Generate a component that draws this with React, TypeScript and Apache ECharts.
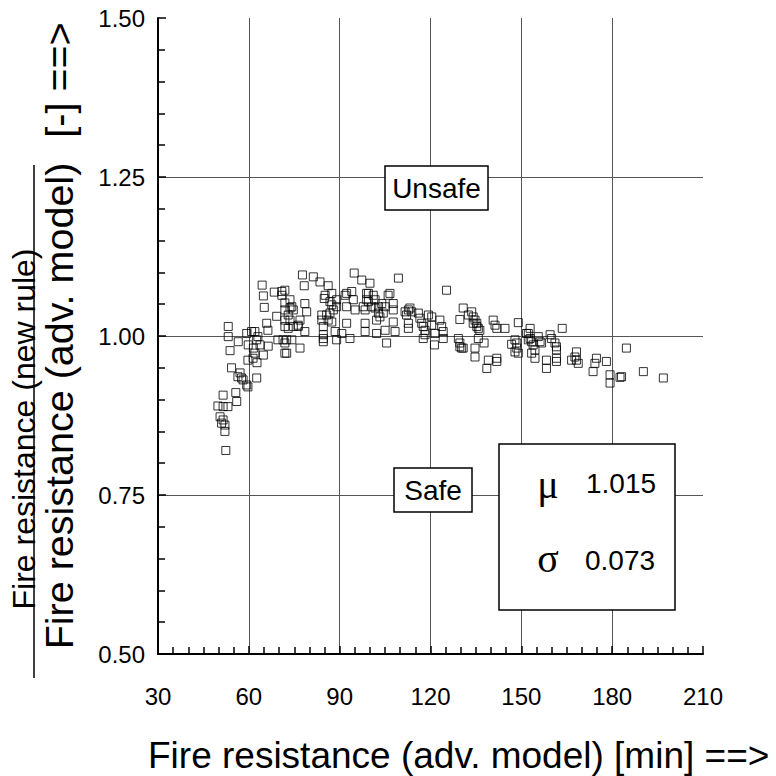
import React, { useEffect, useRef } from "react";
import * as echarts from "echarts";

// Fire resistance (adv. model) [min], ratio new rule / adv. model [-]
const clusterShort: [number, number][] = [
  [64.4, 1.080], [64.8, 1.063], [65.1, 1.045], [68.4, 1.069], [70.9, 1.070], [70.9, 1.064],
  [71.9, 1.052], [71.9, 1.041], [71.9, 1.025], [69.2, 1.031], [65.9, 1.020], [66.3, 1.009],
  [53.2, 1.015], [53.2, 0.999], [53.8, 0.977], [56.5, 0.991], [59.3, 1.004], [60.9, 1.007],
  [62.0, 1.007], [62.6, 0.994], [59.8, 0.986], [61.5, 0.981], [62.0, 0.973], [63.0, 0.999],
  [63.7, 0.986], [64.8, 0.970], [66.4, 0.984], [69.6, 0.994], [71.3, 0.994], [71.9, 0.989],
  [71.9, 0.973], [59.7, 0.962], [61.4, 0.965], [62.7, 0.958], [54.3, 0.950], [56.4, 0.936],
  [57.1, 0.942], [57.6, 0.934], [58.1, 0.931], [59.3, 0.923], [59.7, 0.920], [62.6, 0.934],
  [55.7, 0.911], [56.0, 0.897], [51.5, 0.907], [49.8, 0.890], [51.5, 0.889], [53.1, 0.889],
  [50.5, 0.873], [51.5, 0.868], [51.0, 0.863], [52.1, 0.860], [52.1, 0.850], [52.4, 0.820],
];

const clusterMid1: [number, number][] = [
  [77.7, 1.096], [78.3, 1.079], [81.3, 1.093], [83.5, 1.085], [86.2, 1.079], [85.2, 1.064],
  [84.9, 1.059], [87.4, 1.067], [86.8, 1.054], [87.4, 1.049], [87.9, 1.041], [86.8, 1.036],
  [89.0, 1.057], [89.0, 1.046], [91.8, 1.064], [92.3, 1.067], [94.0, 1.070], [94.5, 1.057],
  [94.8, 1.099], [97.3, 1.088], [98.9, 1.067], [99.5, 1.054], [97.8, 1.046], [98.4, 1.041],
  [92.3, 1.046], [95.1, 1.041], [92.3, 1.020], [98.4, 1.020], [98.4, 1.007], [88.5, 1.007],
  [90.7, 1.004], [93.4, 0.996], [89.0, 0.994], [84.1, 1.033], [84.1, 1.025], [84.6, 1.015],
  [84.6, 1.002], [84.6, 0.996], [84.6, 0.991], [85.7, 1.033], [86.2, 1.025], [87.4, 1.022],
  [78.5, 1.051], [79.1, 1.038], [78.5, 1.007], [76.9, 1.025], [76.3, 1.017], [76.3, 1.015],
  [73.6, 1.057], [73.6, 1.044], [73.0, 1.033], [73.6, 1.025], [74.2, 1.046], [74.7, 1.041],
  [71.9, 1.072], [71.9, 1.015], [72.5, 0.994], [74.2, 0.994], [76.9, 0.981], [72.5, 0.973],
  [73.0, 1.012], [74.7, 1.015],
];

const clusterMid2: [number, number][] = [
  [109.4, 1.091], [125.3, 1.072], [100.0, 1.083], [99.5, 1.067], [98.9, 1.057], [101.1, 1.064],
  [101.7, 1.057], [100.6, 1.046], [101.7, 1.044], [102.8, 1.046], [103.9, 1.051], [106.0, 1.064],
  [106.6, 1.067], [107.7, 1.051], [107.7, 1.041], [105.0, 1.046], [104.4, 1.036], [102.8, 1.036],
  [103.3, 1.030], [102.2, 1.025], [102.2, 1.004], [105.0, 1.009], [107.7, 1.022], [108.3, 1.007],
  [105.5, 0.989], [111.6, 1.038], [112.7, 1.041], [113.2, 1.044], [113.8, 1.038], [112.1, 1.033],
  [112.7, 1.020], [112.7, 1.012], [116.0, 1.036], [116.5, 1.028], [117.1, 1.020], [117.6, 1.015],
  [118.2, 1.009], [118.2, 1.002], [117.6, 0.996], [119.3, 1.033], [120.4, 1.030], [120.4, 1.017],
  [121.5, 1.004], [121.3, 0.986], [123.1, 1.025], [123.7, 1.015], [124.2, 1.007], [124.2, 0.996],
];

const clusterLong1: [number, number][] = [
  [130.8, 1.044], [129.7, 1.026], [132.5, 1.033], [133.6, 1.038], [134.1, 1.030], [134.7, 1.025],
  [135.3, 1.020], [135.8, 1.012], [135.8, 0.996], [136.3, 1.009], [134.1, 1.020], [135.3, 1.015],
  [137.7, 0.989], [129.2, 0.996], [129.7, 0.989], [130.3, 0.981], [130.8, 0.981], [129.7, 0.983],
  [134.7, 0.981], [134.7, 0.967], [140.7, 1.025], [141.3, 1.017], [141.9, 1.012], [144.6, 1.012],
  [139.1, 0.962], [141.9, 0.965], [141.9, 0.960], [138.6, 0.949], [149.0, 1.021], [147.9, 0.994],
  [148.5, 0.989], [148.5, 0.981], [147.9, 0.975], [149.0, 0.973], [146.8, 0.987], [151.7, 1.004],
  [152.3, 0.994],
];

const clusterLong2: [number, number][] = [
  [152.9, 1.012], [152.3, 1.004], [152.9, 0.996], [153.4, 0.991], [153.9, 0.986], [154.5, 0.978],
  [153.4, 0.973], [154.5, 0.965], [155.6, 0.999], [156.2, 0.991], [156.7, 0.989], [159.5, 1.002],
  [160.0, 0.996], [161.1, 0.989], [161.6, 0.983], [161.6, 0.978], [163.5, 1.012], [158.3, 0.962],
  [158.3, 0.949], [161.6, 0.965], [161.6, 0.960], [168.2, 0.975], [167.7, 0.967], [168.2, 0.962],
  [168.8, 0.957], [166.6, 0.962], [174.8, 0.965], [174.3, 0.957], [173.7, 0.944], [178.1, 0.960],
  [179.3, 0.939], [179.3, 0.926], [184.7, 0.981], [190.3, 0.944], [196.9, 0.934], [182.6, 0.935],
  [183.1, 0.936],
];

const xTicks = { min: 30, max: 210, step: 30 };
const yTicks = { min: 0.5, max: 1.5, step: 0.25 };
const meanValue = "1.015";
const stdValue = "0.073";

const FONT = "Liberation Sans";

export default function App() {
  const ref = useRef<HTMLDivElement>(null);
  useEffect(() => {
    if (!ref.current) return;
    const chart = echarts.init(ref.current, null, { renderer: "svg" });
    const allPoints = [
      ...clusterShort,
      ...clusterMid1,
      ...clusterMid2,
      ...clusterLong1,
      ...clusterLong2,
    ];
    const boxStyle = { fill: "#fff", stroke: "#000", lineWidth: 1.5 };
    chart.setOption({
      animation: false,
      backgroundColor: "#fff",
      grid: { left: 158, top: 18, right: 73, bottom: 122, containLabel: false },
      xAxis: {
        type: "value",
        min: xTicks.min,
        max: xTicks.max,
        interval: xTicks.step,
        axisLine: { show: true, onZero: false, lineStyle: { color: "#000", width: 2 } },
        axisTick: { show: true, inside: true, length: 8, lineStyle: { color: "#000", width: 1.5 } },
        minorTick: { show: true, splitNumber: 6, length: 7, lineStyle: { color: "#000", width: 1.5 } },
        splitLine: {
          show: true,
          showMinLine: false,
          showMaxLine: false,
          lineStyle: { color: "#555", width: 1 },
        },
        axisLabel: { fontSize: 24, color: "#000", fontFamily: FONT, margin: 30 },
      },
      yAxis: {
        type: "value",
        min: yTicks.min,
        max: yTicks.max,
        interval: yTicks.step,
        axisLine: { show: true, onZero: false, lineStyle: { color: "#000", width: 2 } },
        axisTick: { show: true, inside: true, length: 8, lineStyle: { color: "#000", width: 1.5 } },
        minorTick: { show: true, splitNumber: 5, length: 7, lineStyle: { color: "#000", width: 1.5 } },
        splitLine: {
          show: true,
          showMinLine: false,
          showMaxLine: false,
          lineStyle: { color: "#555", width: 1 },
        },
        axisLabel: {
          fontSize: 24,
          color: "#000",
          fontFamily: FONT,
          margin: 13,
          formatter: (v: number) => v.toFixed(2),
        },
      },
      series: [
        {
          type: "scatter",
          data: allPoints,
          symbol: "rect",
          symbolSize: 8,
          itemStyle: { color: "rgba(0,0,0,0)", borderColor: "#000", borderWidth: 1 },
          z: 3,
        },
      ],
      graphic: [
        {
          type: "text",
          x: 148,
          y: 755,
          style: {
            text: "Fire resistance (adv. model) [min] ==>",
            fontSize: 37,
            fontFamily: FONT,
            fill: "#000",
            align: "left",
            verticalAlign: "middle",
          },
        },
        {
          type: "text",
          x: 24,
          y: 429,
          rotation: Math.PI / 2,
          style: {
            text: "Fire resistance (new rule)",
            fontSize: 32,
            fontFamily: FONT,
            fill: "#000",
            align: "center",
            verticalAlign: "middle",
          },
        },
        {
          type: "line",
          shape: { x1: 34, y1: 165, x2: 34, y2: 678 },
          style: { stroke: "#000", lineWidth: 1.5 },
        },
        {
          type: "text",
          x: 59,
          y: 406,
          rotation: Math.PI / 2,
          style: {
            text: "Fire resistance (adv. model)",
            fontSize: 39.5,
            fontFamily: FONT,
            fill: "#000",
            align: "center",
            verticalAlign: "middle",
          },
        },
        {
          type: "text",
          x: 59,
          y: 80,
          rotation: Math.PI / 2,
          style: {
            text: "[-] ==>",
            fontSize: 39.5,
            fontFamily: FONT,
            fill: "#000",
            align: "center",
            verticalAlign: "middle",
          },
        },
        {
          type: "rect",
          z: 100,
          shape: { x: 385, y: 166, width: 103, height: 44 },
          style: boxStyle,
        },
        {
          type: "text",
          z: 101,
          x: 436.5,
          y: 188,
          style: { text: "Unsafe", fontSize: 28, fontFamily: FONT, fill: "#000", align: "center", verticalAlign: "middle" },
        },
        {
          type: "rect",
          z: 100,
          shape: { x: 394, y: 468, width: 78, height: 44 },
          style: boxStyle,
        },
        {
          type: "text",
          z: 101,
          x: 433,
          y: 490,
          style: { text: "Safe", fontSize: 28, fontFamily: FONT, fill: "#000", align: "center", verticalAlign: "middle" },
        },
        {
          type: "rect",
          z: 100,
          shape: { x: 499, y: 444, width: 176, height: 166 },
          style: boxStyle,
        },
        {
          type: "text",
          z: 101,
          x: 548,
          y: 484,
          style: { text: "μ", fontSize: 40, fontFamily: "Liberation Serif", fill: "#000", align: "center", verticalAlign: "middle" },
        },
        {
          type: "text",
          z: 101,
          x: 586,
          y: 483,
          style: { text: meanValue, fontSize: 28, fontFamily: FONT, fill: "#000", align: "left", verticalAlign: "middle" },
        },
        {
          type: "text",
          z: 101,
          x: 548,
          y: 558,
          style: { text: "σ", fontSize: 40, fontFamily: "Liberation Serif", fill: "#000", align: "center", verticalAlign: "middle" },
        },
        {
          type: "text",
          z: 101,
          x: 585,
          y: 560,
          style: { text: stdValue, fontSize: 28, fontFamily: FONT, fill: "#000", align: "left", verticalAlign: "middle" },
        },
      ],
    });
    return () => chart.dispose();
  }, []);
  return <div ref={ref} style={{ width: 776, height: 776, position: "absolute", left: 0, top: 0 }} />;
}
